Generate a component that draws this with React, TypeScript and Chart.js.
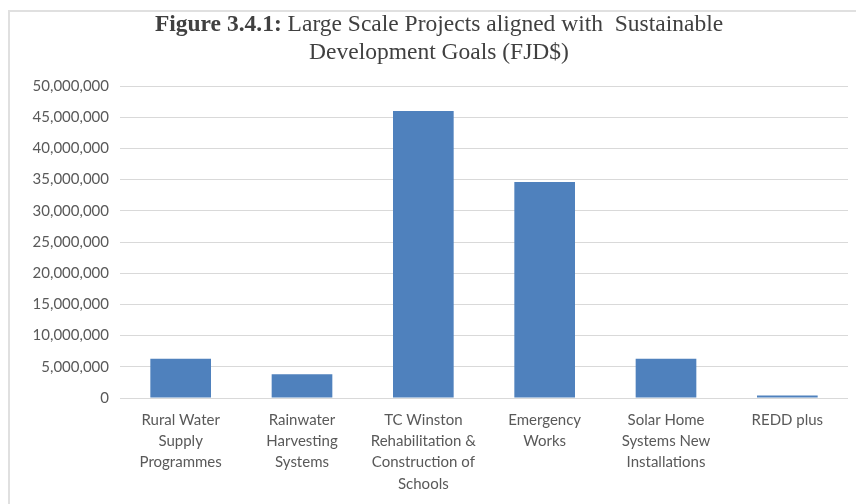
import React, { useEffect, useRef } from "react";
import { Chart, registerables } from "chart.js";

Chart.register(...registerables);

const categories: string[][] = [
  ["Rural Water", "Supply", "Programmes"],
  ["Rainwater", "Harvesting", "Systems"],
  ["TC Winston", "Rehabilitation &", "Construction of", "Schools"],
  ["Emergency", "Works"],
  ["Solar Home", "Systems New", "Installations"],
  ["REDD plus"],
];
const values: number[] = [6300000, 3800000, 46000000, 34600000, 6300000, 400000];
const yMax = 50000000;
const yStep = 5000000;
const titleBold = "Figure 3.4.1:";
const titleRest = " Large Scale Projects aligned with  Sustainable";
const titleLine2 = "Development Goals (FJD$)";

const titlePlugin = {
  id: "mixedTitle",
  afterDraw(chart: any) {
    const ctx = chart.ctx as CanvasRenderingContext2D;
    const cx = 429;
    ctx.save();
    ctx.fillStyle = "#404040";
    ctx.textBaseline = "middle";
    const bold = "bold 23.5px 'Liberation Serif', 'Times New Roman', serif";
    const reg = "23.5px 'Liberation Serif', 'Times New Roman', serif";
    ctx.font = bold;
    const wb = ctx.measureText(titleBold).width;
    ctx.font = reg;
    const wr = ctx.measureText(titleRest).width;
    const x = cx - (wb + wr) / 2;
    ctx.textAlign = "left";
    ctx.font = bold;
    ctx.fillText(titleBold, x, 13);
    ctx.font = reg;
    ctx.fillText(titleRest, x + wb, 13);
    ctx.textAlign = "center";
    ctx.fillText(titleLine2, cx, 41);
    ctx.restore();
  },
};

export default function App() {
  const ref = useRef<HTMLCanvasElement | null>(null);
  useEffect(() => {
    if (!ref.current) return;
    const chart = new Chart(ref.current, {
      type: "bar",
      data: {
        labels: categories,
        datasets: [
          {
            data: values,
            backgroundColor: "#4F81BD",
            borderWidth: 0,
            categoryPercentage: 0.5,
            barPercentage: 1,
          },
        ],
      },
      options: {
        responsive: true,
        maintainAspectRatio: false,
        animation: false,
        layout: { padding: { top: 74, right: 8, left: 0, bottom: 0 } },
        plugins: {
          legend: { display: false },
          title: { display: false },
          tooltip: { enabled: false },
        },
        scales: {
          x: {
            grid: { display: false, drawTicks: false },
            border: { display: false },
            ticks: {
              color: "#595959",
              font: { family: "Lato, 'Open Sans', sans-serif", size: 15, lineHeight: 1.43 },
              padding: 11,
              maxRotation: 0,
              minRotation: 0,
              autoSkip: false,
            },
            afterFit: (scale: any) => {
              scale.height = 106;
            },
          },
          y: {
            min: 0,
            max: yMax,
            grid: { color: "#d9d9d9", lineWidth: 1, drawTicks: false },
            border: { display: false },
            ticks: {
              stepSize: yStep,
              color: "#595959",
              font: { family: "Lato, 'Open Sans', sans-serif", size: 15 },
              padding: 11,
              callback: (v: any) => Number(v).toLocaleString("en-US"),
            },
            afterFit: (scale: any) => {
              scale.width = 110;
            },
          },
        },
      },
      plugins: [titlePlugin],
    });
    return () => chart.destroy();
  }, []);
  return (
    <div
      style={{
        position: "fixed",
        left: 8,
        top: 10,
        width: 848,
        height: 494,
        boxSizing: "border-box",
        borderLeft: "2px solid #e0e0e0",
        borderTop: "2px solid #e0e0e0",
        background: "#fff",
      }}
    >
      <div style={{ position: "relative", width: 846, height: 492 }}>
        <canvas ref={ref} />
      </div>
    </div>
  );
}
